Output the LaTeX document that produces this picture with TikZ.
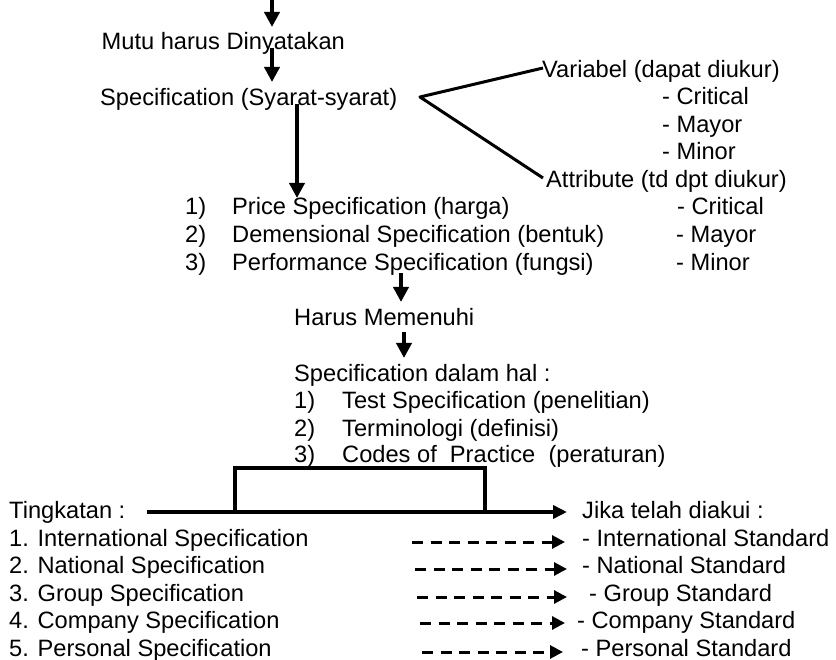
\documentclass[tikz,border=0pt]{standalone}
\usepackage{fontspec}
\setmainfont{Liberation Sans}
\usetikzlibrary{arrows.meta}
\begin{document}
\begin{tikzpicture}[x=1pt,y=-1pt,
  txt/.style={anchor=base west, inner sep=0pt, font=\fontsize{23.65}{27}\selectfont},
  flow/.style={line width=4pt, -{Triangle[length=15pt,width=15pt]}},
  branch/.style={line width=3pt, line join=round},
  frame/.style={line width=3.5pt},
  mainarrow/.style={line width=3.5pt, -{Triangle[length=14pt,width=13pt]}},
  dasharrow/.style={line width=3pt, dash pattern=on 11pt off 7.5pt, -{Triangle[length=13pt,width=13pt]}}]
\useasboundingbox (0,0) rectangle (836,660);
\newcommand{\numitem}[3]{\makebox[#1][l]{#2}#3}

% --- upper chain ---
\node[txt] (mutu) at (101.5,50) {Mutu harus Dinyatakan};
\node[txt] (spec) at (100,106) {Specification (Syarat-syarat)};

\coordinate (topin) at (272,0);
\coordinate (mutuin) at (272,27);
\coordinate (mutuout) at (272,48);
\coordinate (specin) at (272,82);
\draw[flow] (topin) -- (mutuin);
\draw[flow] (mutuout) -- (specin);

% --- variable / attribute branch ---
\node[txt] (var) at (542,78) {Variabel (dapat diukur)};
\node[txt] (vcrit) at (662,105) {- Critical};
\node[txt] (vmay) at (662,133) {- Mayor};
\node[txt] (vmin) at (662,160) {- Minor};
\node[txt] (attr) at (546,188) {Attribute (td dpt diukur)};
\node[txt] (acrit) at (677,215) {- Critical};
\node[txt] (amay) at (676,243) {- Mayor};
\node[txt] (amin) at (676,271) {- Minor};

\coordinate (fork) at (420,97);
\coordinate (varin) at (543,68);
\coordinate (attrin) at (543,178);
\draw[branch] (varin) -- (fork) -- (attrin);

% --- kinds of specification ---
\node[txt] (k1) at (185,215) {\numitem{47pt}{1)}{Price Specification (harga)}};
\node[txt] (k2) at (185,243) {\numitem{47pt}{2)}{Demensional Specification (bentuk)}};
\node[txt] (k3) at (185,271) {\numitem{47pt}{3)}{Performance Specification (fungsi)}};

\coordinate (specout) at (297,104);
\coordinate (kin) at (297,198);
\draw[flow] (specout) -- (kin);

% --- requirements ---
\node[txt] (harus) at (294,326) {Harus Memenuhi};
\node[txt] (hal) at (294,382) {Specification dalam hal :};
\node[txt] (h1) at (294,409) {\numitem{48pt}{1)}{Test Specification (penelitian)}};
\node[txt] (h2) at (294,436) {\numitem{48pt}{2)}{Terminologi (definisi)}};
\node[txt] (h3) at (294,463) {\numitem{48pt}{3)}{Codes of\ \ Practice\ \ (peraturan)}};

\coordinate (kout) at (401,273);
\coordinate (harusin) at (401,302);
\coordinate (harusout) at (404,332);
\coordinate (halin) at (404,358);
\draw[flow] (kout) -- (harusin);
\draw[flow] (harusout) -- (halin);

% --- levels and recognised standards ---
\node[txt] (ting) at (9,518) {Tingkatan :};
\node[txt] (l1) at (9,546) {1. International Specification};
\node[txt] (l2) at (9,573) {2. National Specification};
\node[txt] (l3) at (9,601) {3. Group Specification};
\node[txt] (l4) at (9,628) {4. Company Specification};
\node[txt] (l5) at (9,656) {5. Personal Specification};

\node[txt] (jika) at (582,518) {Jika telah diakui :};
\node[txt] (s1) at (582,546) {- International Standard};
\node[txt] (s2) at (582,573) {- National Standard};
\node[txt] (s3) at (589,601) {- Group Standard};
\node[txt] (s4) at (577,628) {- Company Standard};
\node[txt] (s5) at (581,656) {- Personal Standard};

\coordinate (lineL) at (147,512);
\coordinate (lineR) at (567,512);
\coordinate (brL) at (235,512);
\coordinate (brR) at (485,512);
\coordinate (brTL) at (235,468);
\coordinate (brTR) at (485,468);
\draw[frame] (brL) -- (brTL) -- (brTR) -- (brR);
\draw[mainarrow] (lineL) -- (lineR);

\coordinate (d1a) at (412,542); \coordinate (d1b) at (565,542);
\coordinate (d2a) at (415,569); \coordinate (d2b) at (567,569);
\coordinate (d3a) at (417,597); \coordinate (d3b) at (567,597);
\coordinate (d4a) at (420,623); \coordinate (d4b) at (565,623);
\coordinate (d5a) at (422,652); \coordinate (d5b) at (563,652);
\draw[dasharrow] (d1a) -- (d1b);
\draw[dasharrow] (d2a) -- (d2b);
\draw[dasharrow] (d3a) -- (d3b);
\draw[dasharrow] (d4a) -- (d4b);
\draw[dasharrow] (d5a) -- (d5b);
\end{tikzpicture}
\end{document}
